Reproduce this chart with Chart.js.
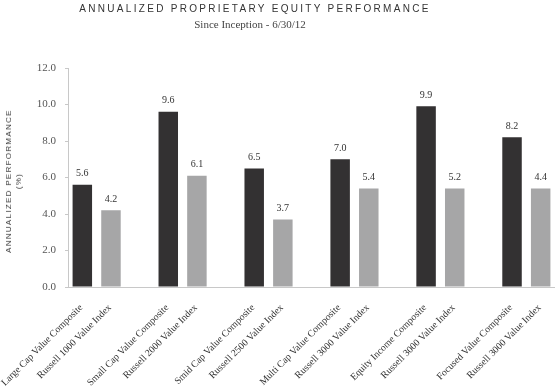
<!DOCTYPE html>
<html>
<head>
<meta charset="utf-8">
<script src="https://cdn.jsdelivr.net/npm/chart.js@4/dist/chart.umd.min.js"></script>
<style>
html, body { margin: 0; padding: 0; background: #fff; }
#wrap { position: relative; width: 555px; height: 386px; overflow: hidden; }
#chart { position: absolute; left: 0; top: 0; }
.title { position: absolute; left: 255px; top: 3px; transform: translateX(-50%); white-space: nowrap;
  font-family: "Liberation Sans", Arial, sans-serif; font-size: 10px; letter-spacing: 2.3px; color: #333; }
.subtitle { position: absolute; left: 250px; top: 18px; transform: translateX(-50%); white-space: nowrap;
  font-family: "Liberation Serif", "DejaVu Serif", serif; font-size: 11px; color: #444; }
.ytitle { position: absolute; left: 14px; top: 181px; transform: translate(-50%, -50%) rotate(-90deg);
  white-space: nowrap; text-align: center; line-height: 10px;
  font-family: "Liberation Sans", Arial, sans-serif; font-size: 8px; letter-spacing: 1.3px; color: #333; }
</style>
</head>
<body>
<div id="wrap">
  <canvas id="chart" width="555" height="386"></canvas>
  <div class="title">ANNUALIZED PROPRIETARY EQUITY PERFORMANCE</div>
  <div class="subtitle">Since Inception - 6/30/12</div>
  <div class="ytitle">ANNUALIZED PERFORMANCE<br>(%)</div>
</div>
<script>
// 6 pairs : composite (dark) vs. benchmark index (gray)
var composites = ["Large Cap Value Composite", "Small Cap Value Composite", "Smid Cap Value Composite",
	"Multi Cap Value Composite", "Equity Income Composite", "Focused Value Composite"];
var indexes = ["Russell 1000 Value Index", "Russell 2000 Value Index", "Russell 2500 Value Index",
	"Russell 3000 Value Index", "Russell 3000 Value Index", "Russell 3000 Value Index"];

// bar heights as drawn
var compositeValues = [5.6, 9.6, 6.5, 7.0, 9.9, 8.2];
var indexValues = [4.2, 6.1, 3.7, 5.4, 5.4, 5.4];
// numbers printed above the bars
var compositeLabels = ["5.6", "9.6", "6.5", "7.0", "9.9", "8.2"];
var indexLabels = ["4.2", "6.1", "3.7", "5.4", "5.2", "4.4"];

var yTicks = [0, 2, 4, 6, 8, 10, 12];

var DARK = "#333132";
var GRAY = "#a6a6a7";

// build slots : dark, gray, empty spacer between pairs
var labels = [], values = [], colors = [], texts = [];
for (var i = 0; i < composites.length; i++) {
	labels.push(composites[i]); values.push(compositeValues[i]); colors.push(DARK); texts.push(compositeLabels[i]);
	labels.push(indexes[i]); values.push(indexValues[i]); colors.push(GRAY); texts.push(indexLabels[i]);
	if (i < composites.length - 1) {
		labels.push(""); values.push(null); colors.push(GRAY); texts.push("");
	}
}

var valueLabels = {
	id : "valueLabels",
	afterDatasetsDraw : function(chart) {
		var ctx = chart.ctx;
		var meta = chart.getDatasetMeta(0);
		ctx.save();
		ctx.font = "10px 'Liberation Serif', serif";
		ctx.fillStyle = "#333";
		ctx.textAlign = "center";
		ctx.textBaseline = "bottom";
		meta.data.forEach(function(bar, idx) {
			if (texts[idx]) ctx.fillText(texts[idx], bar.x, bar.y - 6);
		});
		ctx.restore();
	}
};

var ctx = document.getElementById("chart");
var myChart = new Chart(ctx, {
	type : "bar",
	data : {
		labels : labels,
		datasets : [ {
			data : values,
			backgroundColor : colors,
			barPercentage : 0.68,
			categoryPercentage : 1.0
		} ]
	},
	options : {
		responsive : false,
		animation : false,
		layout : { padding : { top : 68, right : 0, left : 0, bottom : 0 } },
		plugins : {
			legend : { display : false },
			tooltip : { enabled : false }
		},
		scales : {
			x : {
				grid : { display : false },
				border : { display : true, color : "#c8c8c8" },
				ticks : {
					autoSkip : false,
					minRotation : 45,
					maxRotation : 45,
					padding : 7,
					labelOffset : -1,
					color : "#333",
					font : { family : "'Liberation Serif', serif", size : 9.8 }
				},
				afterFit : function(scale) {
					scale.height = 99;
					scale.paddingLeft = 0;
					scale.paddingRight = 0;
				}
			},
			y : {
				min : 0,
				max : 12,
				afterBuildTicks : function(scale) {
					scale.ticks = yTicks.map(function(v) { return { value : v }; });
				},
				grid : { drawOnChartArea : false, drawTicks : true, tickLength : 3, color : "#c8c8c8" },
				border : { display : true, color : "#c8c8c8" },
				ticks : {
					padding : 9,
					color : "#555",
					font : { family : "'Liberation Serif', serif", size : 11 },
					callback : function(v) { return Number(v).toFixed(1); }
				},
				afterFit : function(scale) { scale.width = 68; }
			}
		}
	},
	plugins : [ valueLabels ]
});
</script>
</body>
</html>
